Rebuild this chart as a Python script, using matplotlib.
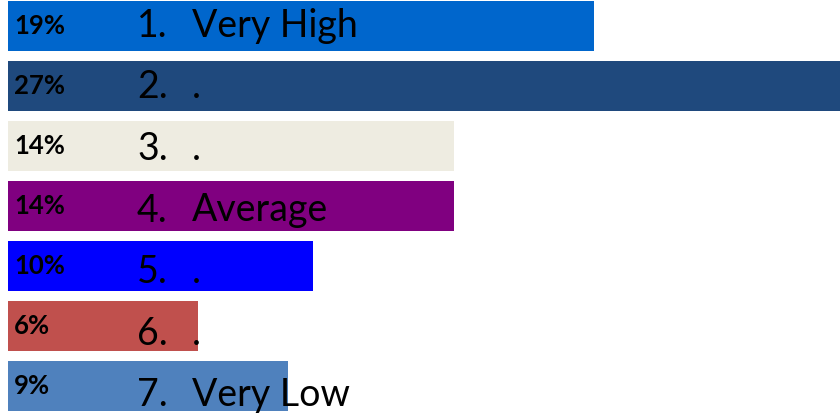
import matplotlib
matplotlib.use("Agg")
import matplotlib.pyplot as plt
import matplotlib.transforms as mtransforms
import numpy as np

# survey answer shares, top to bottom
categories = ["Very High", ".", ".", "Average", ".", ".", "Very Low"]
values = [18.8, 26.7, 14.3, 14.3, 9.8, 6.1, 9.0]
pct_labels = ["19%", "27%", "14%", "14%", "10%", "6%", "9%"]
colors = ["#0066CC", "#1F497D", "#EEECE1", "#800080", "#0000FF", "#C0504D", "#4F81BD"]

fig = plt.figure(figsize=(8.4, 4.15), dpi=100)
ax = fig.add_axes([8/840, 0, 832/840, 1])

y = np.arange(len(values))
ax.barh(y, values, height=50/60, color=colors)
ax.set_xlim(0, 26.7)
ax.set_ylim((415-26)/60, -26/60)
ax.axis("off")

trans = mtransforms.blended_transform_factory(fig.transFigure, ax.transData)
for i, (cat, pct) in enumerate(zip(categories, pct_labels)):
    ax.text(14/840, i, pct, transform=trans, fontsize=18.5, fontweight="bold",
            family="Lato", va="center", ha="left", color="black")
    ly = i * 1.025
    ax.text(137/840, ly, f"{i+1}.", transform=trans, fontsize=27,
            family="Lato", va="center", ha="left", color="black")
    ax.text(192/840, ly, cat, transform=trans, fontsize=27,
            family="Lato", va="center", ha="left", color="black")

fig.savefig("out.png", dpi=100)
